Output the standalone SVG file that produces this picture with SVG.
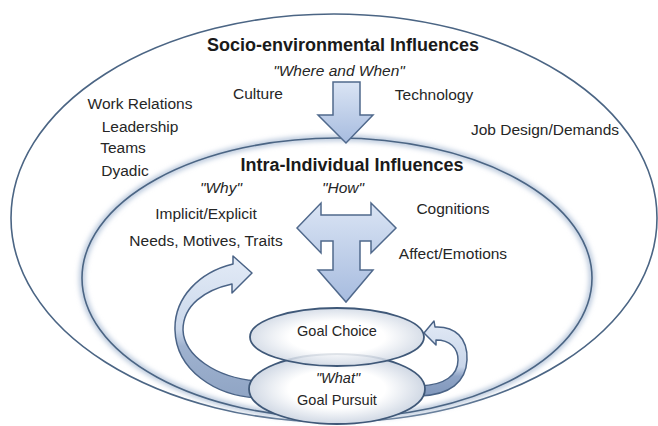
<svg xmlns="http://www.w3.org/2000/svg" width="658" height="426" viewBox="0 0 658 426">
<defs>
<style>
.t{font-family:"Liberation Sans",Arial,sans-serif;font-size:15.5px;fill:#262626;text-anchor:middle}
.b{font-weight:bold;font-size:18px;fill:#1a1a1a}
.i{font-style:italic}
.g{font-size:14.5px}
.ring{fill:none;stroke:#4b6584;stroke-width:1.6}
.arr{fill:url(#ag);stroke:#50698c;stroke-width:1.5;stroke-linejoin:miter}
.rib{stroke:#4a6386;stroke-width:1.5;stroke-linejoin:round}
.goal{fill:url(#gg);stroke:#3f5878;stroke-width:1.8}
</style>
<linearGradient id="ag" x1="0" y1="0" x2="0" y2="1">
<stop offset="0" stop-color="#dae4f4"/>
<stop offset="1" stop-color="#a7bcdf"/>
</linearGradient>
<linearGradient id="lg" gradientUnits="userSpaceOnUse" x1="0" y1="258" x2="0" y2="400">
<stop offset="0" stop-color="#e2eaf6"/>
<stop offset="0.5" stop-color="#cbd8eb"/>
<stop offset="0.62" stop-color="#9fb2cf"/>
<stop offset="1" stop-color="#8fa4c4"/>
</linearGradient>
<linearGradient id="rg" gradientUnits="userSpaceOnUse" x1="0" y1="320" x2="0" y2="398">
<stop offset="0" stop-color="#e2eaf6"/>
<stop offset="0.6" stop-color="#c9d6ea"/>
<stop offset="0.72" stop-color="#8fa4c6"/>
<stop offset="1" stop-color="#7f96bb"/>
</linearGradient>
<radialGradient id="gg" cx="0.5" cy="0.5" r="0.5">
<stop offset="0.55" stop-color="#ffffff"/>
<stop offset="1" stop-color="#d0d8e4"/>
</radialGradient>
<filter id="glow" x="-10%" y="-10%" width="120%" height="120%">
<feGaussianBlur stdDeviation="2.5"/>
</filter>
</defs>
<rect width="658" height="426" fill="#ffffff"/>

<g id="outer">
<ellipse cx="334" cy="218" rx="323" ry="204" class="ring"/>
</g>

<g id="inner">
<ellipse cx="337" cy="278" rx="255" ry="140" fill="none" stroke="#b9c8dc" stroke-width="6" filter="url(#glow)"/>
<ellipse cx="337" cy="278" rx="255" ry="140" class="ring"/>
</g>

<g id="texts-outer">
<text class="t b" x="343" y="51">Socio-environmental Influences</text>
<text class="t i" x="339" y="76">"Where and When"</text>
<text class="t" x="258" y="99">Culture</text>
<text class="t" x="434" y="100">Technology</text>
<text class="t" x="140" y="109">Work Relations</text>
<text class="t" x="140" y="132">Leadership</text>
<text class="t" x="545" y="135">Job Design/Demands</text>
<text class="t" x="123" y="153">Teams</text>
<text class="t" x="125" y="176">Dyadic</text>
</g>

<g id="texts-inner">
<text class="t b" x="352" y="171">Intra-Individual Influences</text>
<text class="t i" x="221" y="193">"Why"</text>
<text class="t i" x="343" y="193">"How"</text>
<text class="t" x="206" y="219">Implicit/Explicit</text>
<text class="t" x="206" y="246">Needs, Motives, Traits</text>
<text class="t" x="453" y="214">Cognitions</text>
<text class="t" x="453" y="259">Affect/Emotions</text>
</g>

<g id="connectors">
<polygon class="arr" points="333,82 360,82 360,115 373,115 346,143 318,115 333,115"/>
<polygon class="arr" points="297,228 321,203 321,215 371,215 371,203 396,228 371,253 371,241 360,241 360,270 373,270 346,302 318,270 333,270 333,241 321,241 321,253"/>
<path class="rib" fill="url(#lg)" d="M258 398 C215 396 176 370 175 330 C174 297 200 272 233 264 L233 256 L252 273 L232 293 L232 284 C205 290 183 305 183 330 C184 355 215 378 258 381 Z"/>
<path class="rib" fill="url(#rg)" d="M420 396 C450 395 466 382 467 360 C468 338 455 326 435 327 L434 321 L424 333 L436 345 L436 340 C450 340 458 348 458 360 C458 375 445 385 420 386 Z"/>
</g>

<g id="goal-pursuit">
<ellipse cx="337" cy="389" rx="88" ry="35" class="goal"/>
<text class="t i g" x="338" y="383">"What"</text>
<text class="t g" x="337" y="405">Goal Pursuit</text>
</g>

<g id="goal-choice">
<ellipse cx="337" cy="337" rx="87" ry="29" class="goal" fill-opacity="0.85"/>
<text class="t g" x="337" y="336">Goal Choice</text>
</g>
</svg>
